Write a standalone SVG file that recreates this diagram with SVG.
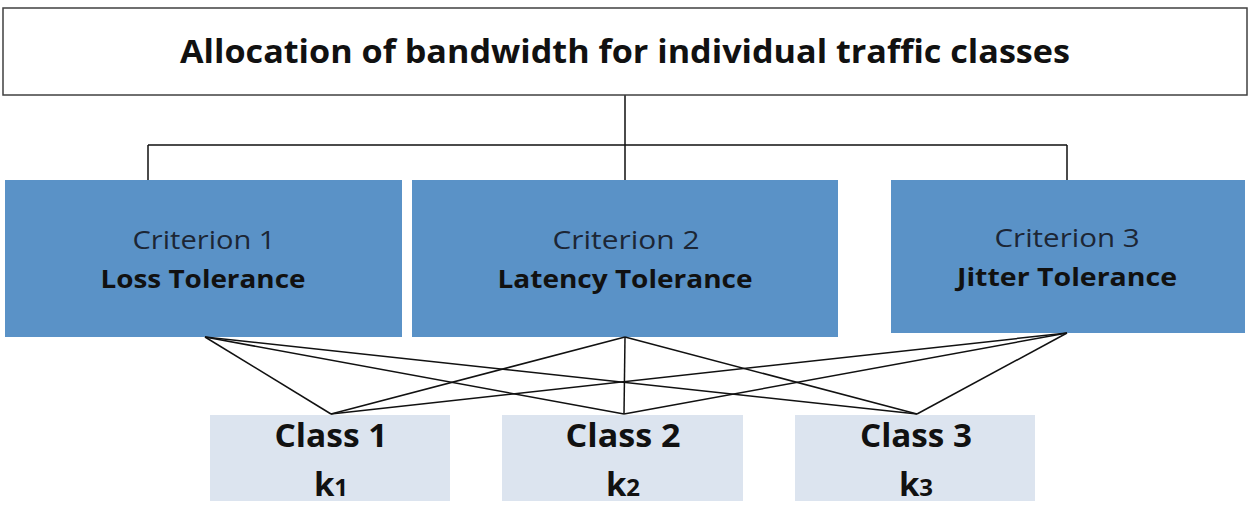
<svg xmlns="http://www.w3.org/2000/svg" width="1250" height="508" viewBox="0 0 1250 508">
<style>
.top{fill:#fff;stroke:#404040;stroke-width:1.5}
.crit{fill:#5a92c7}
.cls{fill:#dce4ef}
.t{font-family:"Open Sans","Liberation Sans",sans-serif;text-anchor:middle;fill:#111}
.title{font-size:32px;font-weight:bold}
.c1{font-size:25px;fill:#1c2635}
.c2{font-size:25px;font-weight:bold}
.k{font-size:33px;font-weight:bold}
.con line,.con path{stroke:#111;stroke-width:1.5;fill:none}
</style>
<rect width="1250" height="508" fill="#fff"/>
<g class="con">
<path d="M625 95 V145 M148 145 H1067 M148 145 V205 M625 145 V180 M1067 145 V180"/>
</g>
<g id="top"><rect class="top" x="3" y="8" width="1244" height="87"/>
<text class="t title" x="625" y="63" textLength="890" lengthAdjust="spacingAndGlyphs">Allocation of bandwidth for individual traffic classes</text></g>
<g id="crit1"><rect class="crit" x="5" y="180" width="397" height="157"/>
<text class="t c1" x="204" y="249" textLength="143" lengthAdjust="spacingAndGlyphs">Criterion 1</text><text class="t c2" x="203" y="288" textLength="205" lengthAdjust="spacingAndGlyphs">Loss Tolerance</text></g>
<g id="crit2"><rect class="crit" x="412" y="180" width="426" height="157"/>
<text class="t c1" x="626" y="249" textLength="147" lengthAdjust="spacingAndGlyphs">Criterion 2</text><text class="t c2" x="625" y="288" textLength="255" lengthAdjust="spacingAndGlyphs">Latency Tolerance</text></g>
<g id="crit3"><rect class="crit" x="891" y="180" width="354" height="153"/>
<text class="t c1" x="1067" y="247" textLength="145" lengthAdjust="spacingAndGlyphs">Criterion 3</text><text class="t c2" x="1067" y="286" textLength="220" lengthAdjust="spacingAndGlyphs">Jitter Tolerance</text></g>
<g id="class1"><rect class="cls" x="210" y="415" width="240" height="86"/>
<text class="t k" x="331" y="447" textLength="113" lengthAdjust="spacingAndGlyphs">Class 1</text><text class="t k" x="331" y="496">k<tspan font-size="24">1</tspan></text></g>
<g id="class2"><rect class="cls" x="502" y="415" width="241" height="86"/>
<text class="t k" x="623" y="447" textLength="115" lengthAdjust="spacingAndGlyphs">Class 2</text><text class="t k" x="623" y="496">k<tspan font-size="24">2</tspan></text></g>
<g id="class3"><rect class="cls" x="795" y="415" width="240" height="86"/>
<text class="t k" x="916" y="447" textLength="112" lengthAdjust="spacingAndGlyphs">Class 3</text><text class="t k" x="916" y="496">k<tspan font-size="24">3</tspan></text></g>
<g class="con" id="connectors">
<line x1="205" y1="337" x2="331" y2="414"/><line x1="205" y1="337" x2="624" y2="414"/><line x1="205" y1="337" x2="917" y2="414"/>
<line x1="625" y1="337" x2="331" y2="414"/><line x1="625" y1="337" x2="624" y2="414"/><line x1="625" y1="337" x2="917" y2="414"/>
<line x1="1067" y1="333" x2="331" y2="414"/><line x1="1067" y1="333" x2="624" y2="414"/><line x1="1067" y1="333" x2="917" y2="414"/>
</g>
</svg>
